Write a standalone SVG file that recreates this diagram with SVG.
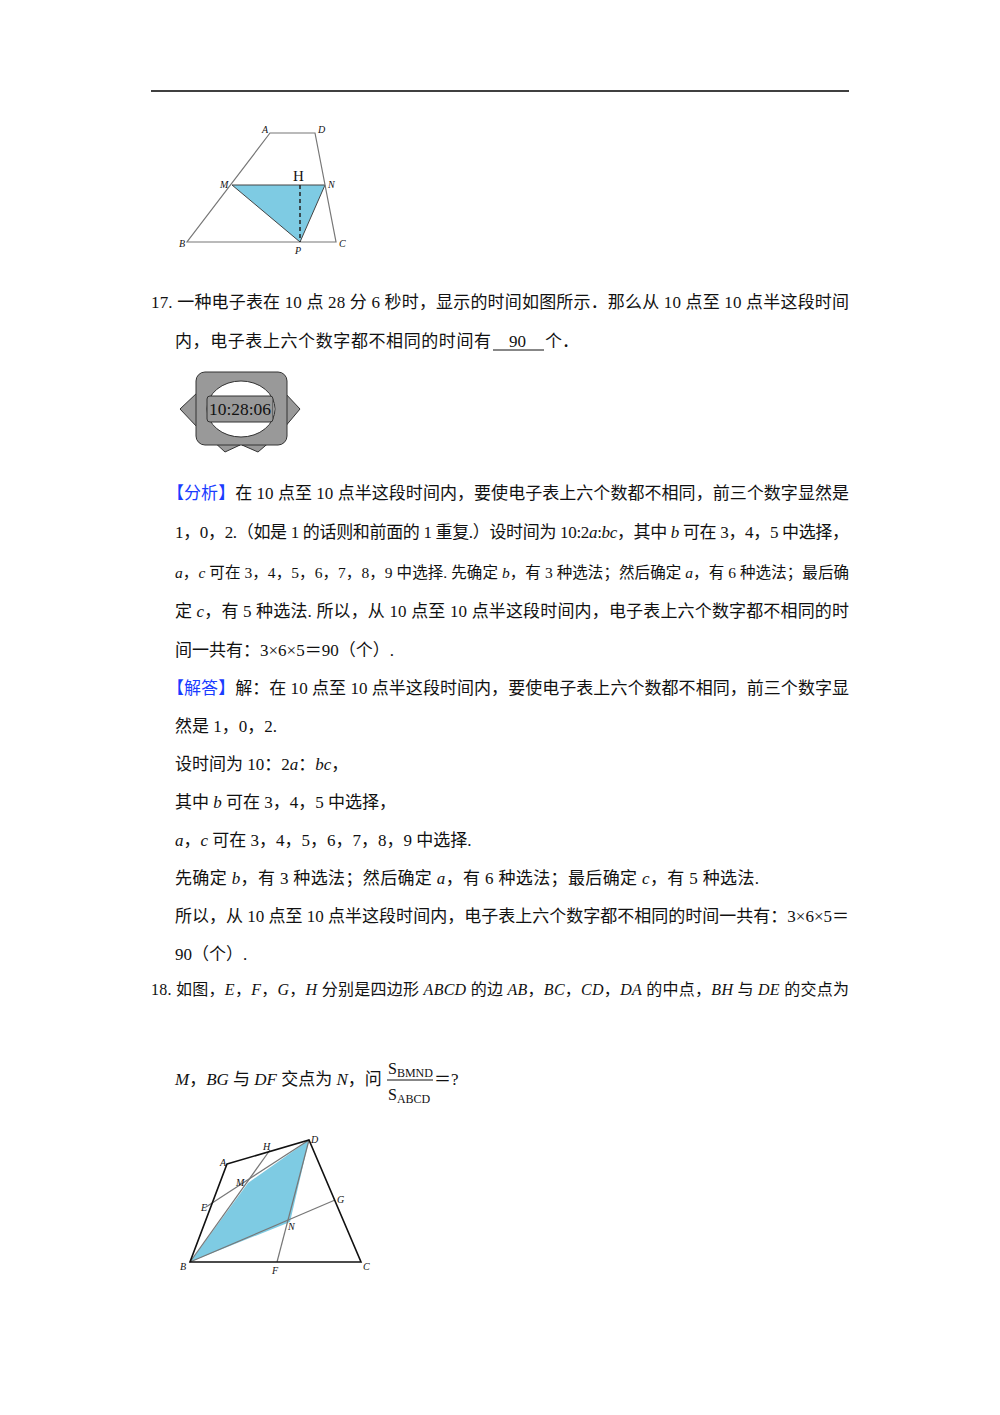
<svg xmlns="http://www.w3.org/2000/svg" width="1000" height="1415" viewBox="0 0 1000 1415">
<style>
text{font-family:"Liberation Serif","Noto Sans CJK SC",serif;font-size:17px;fill:#111}
.b{fill:#1a3cff}
.l{font-size:10px;font-style:italic}
.g{stroke:#777;stroke-width:1.2;fill:none}
.k{stroke:#111;stroke-width:1.6;fill:none}
</style>
<rect width="1000" height="1415" fill="#fff"/>
<line x1="151" y1="91" x2="849" y2="91" stroke="#000" stroke-width="1.5"/>
<g id="fig1">
<polygon points="232,185 325,185 300,242" fill="#7ecbe3" stroke="#444"/>
<polygon class="g" points="270,133 315,133 336,242 187,242"/>
<line x1="300" y1="185" x2="300" y2="242" stroke="#222" stroke-width="1.5" stroke-dasharray="4,3"/>
<text x="293" y="181" style="font-size:15px">H</text>
<text class="l" x="262" y="133">A</text><text class="l" x="318" y="133">D</text>
<text class="l" x="220" y="188">M</text><text class="l" x="328" y="188">N</text>
<text class="l" x="179" y="247">B</text><text class="l" x="339" y="247">C</text><text class="l" x="295" y="254">P</text>
</g>
<text x="151" y="308" textLength="698" lengthAdjust="spacing">17. 一种电子表在 10 点 28 分 6 秒时，显示的时间如图所示．那么从 10 点至 10 点半这段时间</text>
<text x="175" y="347" textLength="316" lengthAdjust="spacing">内，电子表上六个数字都不相同的时间有</text>
<text x="509" y="347">90</text><line x1="493" y1="350" x2="544" y2="350" stroke="#111"/>
<text x="545" y="347">个．</text>
<g id="clock" stroke="#333" fill="#999">
<polygon points="198,392 180,409 198,428"/>
<polygon points="284,392 300,409 284,428"/>
<polygon points="212,440 225,452 240,445"/>
<polygon points="242,445 258,452 272,440"/>
<rect x="196" y="372" width="91" height="73" rx="9"/>
<ellipse cx="241" cy="409" rx="34" ry="28" fill="#fff"/>
<rect x="207" y="396" width="66" height="26" rx="3"/>
<text x="209" y="415" stroke="none" textLength="62" lengthAdjust="spacingAndGlyphs" style="font-size:17px">10:28:06</text>
</g>
<text x="167" y="499" textLength="682" lengthAdjust="spacing"><tspan class="b">【分析】</tspan>在 10 点至 10 点半这段时间内，要使电子表上六个数都不相同，前三个数字显然是</text>
<text x="175" y="538" textLength="674" lengthAdjust="spacing">1，0，2.（如是 1 的话则和前面的 1 重复.）设时间为 10:2<tspan font-style="italic">a</tspan>:<tspan font-style="italic">bc</tspan>，其中 <tspan font-style="italic">b</tspan> 可在 3，4，5 中选择，</text>
<text x="175" y="578" textLength="674" lengthAdjust="spacing" style="font-size:15.5px"><tspan font-style="italic">a</tspan>，<tspan font-style="italic">c</tspan> 可在 3，4，5，6，7，8，9 中选择. 先确定 <tspan font-style="italic">b</tspan>，有 3 种选法；然后确定 <tspan font-style="italic">a</tspan>，有 6 种选法；最后确</text>
<text x="175" y="617" textLength="674" lengthAdjust="spacing">定 <tspan font-style="italic">c</tspan>，有 5 种选法. 所以，从 10 点至 10 点半这段时间内，电子表上六个数字都不相同的时</text>
<text x="175" y="656">间一共有：3×6×5＝90（个）.</text>
<text x="167" y="694" textLength="682" lengthAdjust="spacing"><tspan class="b">【解答】</tspan>解：在 10 点至 10 点半这段时间内，要使电子表上六个数都不相同，前三个数字显</text>
<text x="175" y="732">然是 1，0，2.</text>
<text x="175" y="770">设时间为 10：2<tspan font-style="italic">a</tspan>：<tspan font-style="italic">bc</tspan>，</text>
<text x="175" y="808">其中 <tspan font-style="italic">b</tspan> 可在 3，4，5 中选择，</text>
<text x="175" y="846"><tspan font-style="italic">a</tspan>，<tspan font-style="italic">c</tspan> 可在 3，4，5，6，7，8，9 中选择.</text>
<text x="175" y="884" textLength="584" lengthAdjust="spacing">先确定 <tspan font-style="italic">b</tspan>，有 3 种选法；然后确定 <tspan font-style="italic">a</tspan>，有 6 种选法；最后确定 <tspan font-style="italic">c</tspan>，有 5 种选法.</text>
<text x="175" y="922" textLength="674" lengthAdjust="spacing">所以，从 10 点至 10 点半这段时间内，电子表上六个数字都不相同的时间一共有：3×6×5＝</text>
<text x="175" y="960">90（个）.</text>
<text x="151" y="995" textLength="698" lengthAdjust="spacing" style="font-size:16px">18. 如图，<tspan font-style="italic">E</tspan>，<tspan font-style="italic">F</tspan>，<tspan font-style="italic">G</tspan>，<tspan font-style="italic">H</tspan> 分别是四边形 <tspan font-style="italic">ABCD</tspan> 的边 <tspan font-style="italic">AB</tspan>，<tspan font-style="italic">BC</tspan>，<tspan font-style="italic">CD</tspan>，<tspan font-style="italic">DA</tspan> 的中点，<tspan font-style="italic">BH</tspan> 与 <tspan font-style="italic">DE</tspan> 的交点为</text>
<text x="175" y="1085"><tspan font-style="italic">M</tspan>，<tspan font-style="italic">BG</tspan> 与 <tspan font-style="italic">DF</tspan> 交点为 <tspan font-style="italic">N</tspan>，问</text>
<text x="388" y="1074" style="font-size:16px">S<tspan font-size="12" dy="3">BMND</tspan></text>
<line x1="387" y1="1080" x2="433" y2="1080" stroke="#111"/>
<text x="388" y="1100" style="font-size:16px">S<tspan font-size="12" dy="3">ABCD</tspan></text>
<text x="434" y="1085">＝?</text>
<g id="fig2">
<polygon points="190,1262 248,1183 309,1140 290,1222" fill="#7ecbe3"/>
<line class="g" x1="190" y1="1262" x2="270" y2="1150"/>
<line class="g" x1="206" y1="1207" x2="309" y2="1140"/>
<line class="g" x1="190" y1="1262" x2="335" y2="1200"/>
<line class="g" x1="309" y1="1140" x2="277" y2="1262"/>
<polygon class="k" points="227,1164 309,1140 361,1262 190,1262"/>
<text class="l" x="220" y="1166">A</text><text class="l" x="263" y="1150">H</text><text class="l" x="311" y="1143">D</text>
<text class="l" x="236" y="1186">M</text><text class="l" x="201" y="1211">E</text><text class="l" x="337" y="1203">G</text>
<text class="l" x="288" y="1230">N</text><text class="l" x="180" y="1270">B</text><text class="l" x="272" y="1274">F</text><text class="l" x="363" y="1270">C</text>
</g>
</svg>
